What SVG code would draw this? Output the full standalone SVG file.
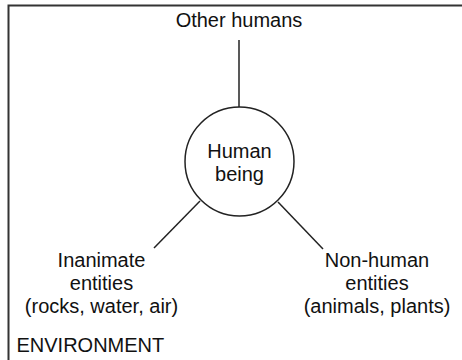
<svg xmlns="http://www.w3.org/2000/svg" width="462" height="360" viewBox="0 0 462 360">
<style>
text{font-family:"Liberation Sans",Arial,sans-serif;font-size:20px;fill:#111;text-anchor:middle}
.ln{stroke:#222;stroke-width:1.5;fill:none}
.frame{stroke:#333;stroke-width:2;fill:none}
</style>
<rect width="462" height="360" fill="#fff"/>
<g id="frame"><path class="frame" d="M462,5.5 H8.5 V360"/></g>
<g id="connectors">
<line class="ln" x1="239" y1="40" x2="239" y2="107"/>
<line class="ln" x1="200" y1="201" x2="154" y2="248"/>
<line class="ln" x1="278" y1="202" x2="323" y2="249"/>
</g>
<g id="other-humans"><text x="239" y="27">Other humans</text></g>
<g id="human-being">
<circle class="ln" cx="239.5" cy="161.5" r="54.5"/>
<text x="239.5" y="158">Human</text>
<text x="239.5" y="181">being</text>
</g>
<g id="inanimate">
<text x="101.5" y="267">Inanimate</text>
<text x="101.5" y="290">entities</text>
<text x="101.5" y="313">(rocks, water, air)</text>
</g>
<g id="non-human">
<text x="377" y="267">Non-human</text>
<text x="377" y="290">entities</text>
<text x="377" y="313">(animals, plants)</text>
</g>
<g id="environment"><text x="16.5" y="352" style="text-anchor:start">ENVIRONMENT</text></g>
</svg>
